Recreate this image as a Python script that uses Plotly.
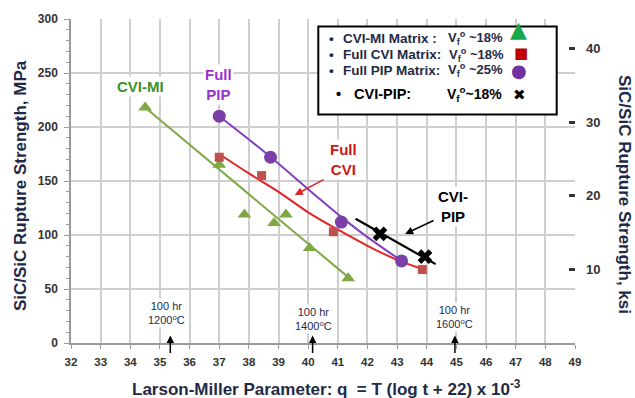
import plotly.graph_objects as go

# ---------------- data ----------------
mi_x = [34.5, 37.0, 37.85, 38.85, 39.25, 40.05, 41.35]
mi_y = [218, 165, 119, 111, 119, 88, 60]
mi_fit_x = [34.5, 41.35]
mi_fit_y = [218, 61]

cvi_x = [37.0, 38.43, 40.85, 43.85]
cvi_y = [172, 155, 103, 68]
cvi_fit_x = [37.0, 38.0, 39.0, 40.0, 41.0, 42.0, 43.0, 43.8]
cvi_fit_y = [175, 157, 140, 121, 105, 90, 77, 69]

pip_x = [37.0, 38.73, 41.12, 43.15]
pip_y = [210, 172, 112, 76]
pip_fit_x = [37.0, 38.7, 40.4, 41.1, 42.0, 43.1]
pip_fit_y = [210, 173, 133, 117, 98, 77]

cp_x = [42.42, 43.94]
cp_y = [101, 80]
cp_fit_x = [41.6, 44.3]
cp_fit_y = [115, 73]

x_ticks = list(range(32, 50))
y_ticks = [0, 50, 100, 150, 200, 250, 300]
ksi_ticks = [10, 20, 30, 40]
KSI_TOP = 44.0  # right axis top value

temps = ["1200", "1400", "1600"]
temp_q = [35.35, 40.15, 44.95]
temp_label_x = [35.22, 40.17, 44.95]
temp_label_y = [28, 22, 24]

# ---------------- layout helpers ----------------
W, H = 635, 398
L, R, T, B = 71, 60, 15, 55.3
PW, PH = W - L - R, H - T - B


def px(xp):
    return (xp - L) / PW


def py(yp):
    return (H - B - yp) / PH


FONT = "Liberation Sans"
NAVY = "#1f2a48"
TICK = "#333333"

fig = go.Figure()

fig.add_trace(go.Scatter(x=mi_fit_x, y=mi_fit_y, mode="lines",
                         line=dict(color="#7fa845", width=2), showlegend=False))
fig.add_trace(go.Scatter(x=mi_x, y=mi_y, mode="markers",
                         marker=dict(symbol="triangle-up", size=12, color="#7fa845"),
                         showlegend=False))
fig.add_trace(go.Scatter(x=cvi_fit_x, y=cvi_fit_y, mode="lines", line_shape="spline",
                         line=dict(color="#e02424", width=2), showlegend=False))
fig.add_trace(go.Scatter(x=cvi_x, y=cvi_y, mode="markers",
                         marker=dict(symbol="square", size=9, color="#c0504d"),
                         showlegend=False))
fig.add_trace(go.Scatter(x=pip_fit_x, y=pip_fit_y, mode="lines", line_shape="spline",
                         line=dict(color="#8040c0", width=2), showlegend=False))
fig.add_trace(go.Scatter(x=pip_x, y=pip_y, mode="markers",
                         marker=dict(symbol="circle", size=13, color="#7a3fa8"),
                         showlegend=False))
fig.add_trace(go.Scatter(x=cp_fit_x, y=cp_fit_y, mode="lines",
                         line=dict(color="black", width=2.2), showlegend=False))
fig.add_trace(go.Scatter(x=cp_x, y=cp_y, mode="markers",
                         marker=dict(symbol="x", size=13, color="black",
                                     line=dict(width=0)),
                         showlegend=False))
# empty trace so the right-hand ksi axis is drawn
fig.add_trace(go.Scatter(x=[], y=[], yaxis="y2", showlegend=False, hoverinfo="skip"))

ann = []
# series labels
ann.append(dict(x=34.33, y=237.5, text="<b>CVI-MI</b>", showarrow=False,
                font=dict(family=FONT, size=15, color="#3f8f2a"), bgcolor="white"))
ann.append(dict(x=36.97, y=239, text="<b>Full<br>PIP</b>", showarrow=False,
                font=dict(family=FONT, size=15, color="#9b2fd0"), bgcolor="white"))
ann.append(dict(x=41.18, y=170, text="<b>Full<br>CVI</b>", showarrow=False,
                font=dict(family=FONT, size=15, color="#d01515"), bgcolor="white"))
ann.append(dict(x=44.9, y=126, text="<b>CVI-<br>PIP</b>", showarrow=False,
                font=dict(family=FONT, size=15, color="black"), bgcolor="white"))
# pointer arrows
ann.append(dict(x=39.55, y=137, ax=40.57, ay=152, axref="x", ayref="y", text="",
                showarrow=True, arrowhead=2, arrowsize=1, arrowwidth=1.6,
                arrowcolor="#e02424"))
ann.append(dict(x=43.27, y=101, ax=44.28, ay=114, axref="x", ayref="y", text="",
                showarrow=True, arrowhead=2, arrowsize=1, arrowwidth=1.6,
                arrowcolor="black"))
# 100 hr markers
for t, q, lx, ly in zip(temps, temp_q, temp_label_x, temp_label_y):
    ann.append(dict(x=lx, y=ly, text="100 hr<br>" + t + "<sup>o</sup>C", showarrow=False,
                    font=dict(family=FONT, size=11, color=NAVY), bgcolor="white"))
    ann.append(dict(x=q, y=7, ax=0, ay=19, text="", showarrow=True, arrowhead=2,
                    arrowsize=1, arrowwidth=1.5, arrowcolor="black"))

# axis titles
ann.append(dict(xref="paper", yref="paper", x=px(20), y=py(184), textangle=-90,
                xanchor="center", yanchor="middle",
                text="<b>SiC/SiC Rupture Strength, MPa</b>", showarrow=False,
                font=dict(family=FONT, size=17, color=NAVY)))
ann.append(dict(xref="paper", yref="paper", x=px(625), y=py(192), textangle=90,
                xanchor="center", yanchor="middle",
                text="<b>SiC/SiC Rupture Strength, ksi</b>", showarrow=False,
                font=dict(family=FONT, size=17, color=NAVY)))
ann.append(dict(xref="paper", yref="paper", x=px(326), y=py(388),
                xanchor="center", yanchor="middle",
                text="<b>Larson-Miller Parameter: q  = T (log t + 22) x 10<sup>-3</sup></b>",
                showarrow=False, font=dict(family=FONT, size=17, color=NAVY)))

# custom legend box
rows = [
    ("CVI-MI Matrix :", "V<sub>f</sub><sup>o</sup> ~18%", 34.3, 331, 340.7, 445.7, NAVY, 13.5),
    ("Full CVI Matrix:", "V<sub>f</sub><sup>o</sup> ~18%", 51, 331, 340.7, 446.7, NAVY, 13.5),
    ("Full PIP Matrix:", "V<sub>f</sub><sup>o</sup> ~25%", 66.7, 331, 340.7, 445.7, NAVY, 13.5),
    ("CVI-PIP:", "V<sub>f</sub><sup>o</sup>~18%", 90.7, 338.3, 351.7, 445, "black", 14.5),
]
for name, vf, yc, xb, xn, xv, col, fs in rows:
    ann.append(dict(xref="paper", yref="paper", x=px(xb), y=py(yc), xanchor="center",
                    yanchor="middle", text="<b>•</b>", showarrow=False,
                    font=dict(family=FONT, size=fs, color=col)))
    ann.append(dict(xref="paper", yref="paper", x=px(xn), y=py(yc), xanchor="left",
                    yanchor="middle", text="<b>" + name + "</b>", showarrow=False,
                    font=dict(family=FONT, size=fs, color=col)))
    ann.append(dict(xref="paper", yref="paper", x=px(xv), y=py(yc), xanchor="left",
                    yanchor="middle", text="<b>" + vf + "</b>", showarrow=False,
                    font=dict(family=FONT, size=fs - 0.5, color=col)))
legend_syms = [("▲", "#1aa64a", 518, 26, 22), ("■", "#c00000", 521, 49, 15),
               ("●", "#7030a0", 519, 67, 18), ("✖", "black", 519, 92, 15)]
for s, c, xs, ys, fs in legend_syms:
    ann.append(dict(xref="paper", yref="paper", x=px(xs), y=py(ys), text=s,
                    xanchor="center", yanchor="middle",
                    showarrow=False, font=dict(family="DejaVu Sans", size=fs, color=c)))

shapes = [dict(type="rect", xref="paper", yref="paper", x0=px(318.3), x1=px(556.7),
               y0=py(111.7), y1=py(22.7), line=dict(color="black", width=2),
               fillcolor="white", layer="above")]

fig.update_layout(
    width=W, height=H, margin=dict(l=L, r=R, t=T, b=B),
    paper_bgcolor="white", plot_bgcolor="white",
    font=dict(family=FONT, size=12, color=TICK),
    showlegend=False,
    xaxis=dict(range=[32, 49], tickvals=x_ticks,
               ticktext=["<b>%d</b>" % v for v in x_ticks],
               showgrid=True, gridcolor="#cfcfcf",
               gridwidth=1.5, showline=True, linecolor="#9a9a9a", linewidth=1.5,
               ticks="outside", ticklen=4, tickcolor="#9a9a9a",
               tickfont=dict(family=FONT, size=11.5, color=TICK),
               ticklabelstandoff=3, zeroline=False),
    yaxis=dict(range=[0, 300], tickvals=y_ticks,
               ticktext=["<b>%d</b>" % v for v in y_ticks],
               showgrid=True, gridcolor="#cfcfcf",
               gridwidth=1.5, showline=True, linecolor="#9a9a9a", linewidth=1.5,
               ticks="outside", ticklen=5, tickcolor="#9a9a9a",
               minor=dict(dtick=10, ticks="outside", ticklen=3, tickcolor="#9a9a9a",
                          showgrid=False),
               tickfont=dict(family=FONT, size=12, color=TICK),
               ticklabelstandoff=4, zeroline=False),
    yaxis2=dict(range=[0, KSI_TOP], tickvals=ksi_ticks,
                ticktext=["<b>%d</b>" % v for v in ksi_ticks],
                overlaying="y", side="right", showgrid=False, showline=False,
                zeroline=False, ticks="inside", ticklen=6, tickwidth=2.5,
                tickcolor="#333333", ticklabelstandoff=10,
                tickfont=dict(family=FONT, size=13, color=TICK)),
    annotations=ann, shapes=shapes,
)

fig.write_html("out.html")
